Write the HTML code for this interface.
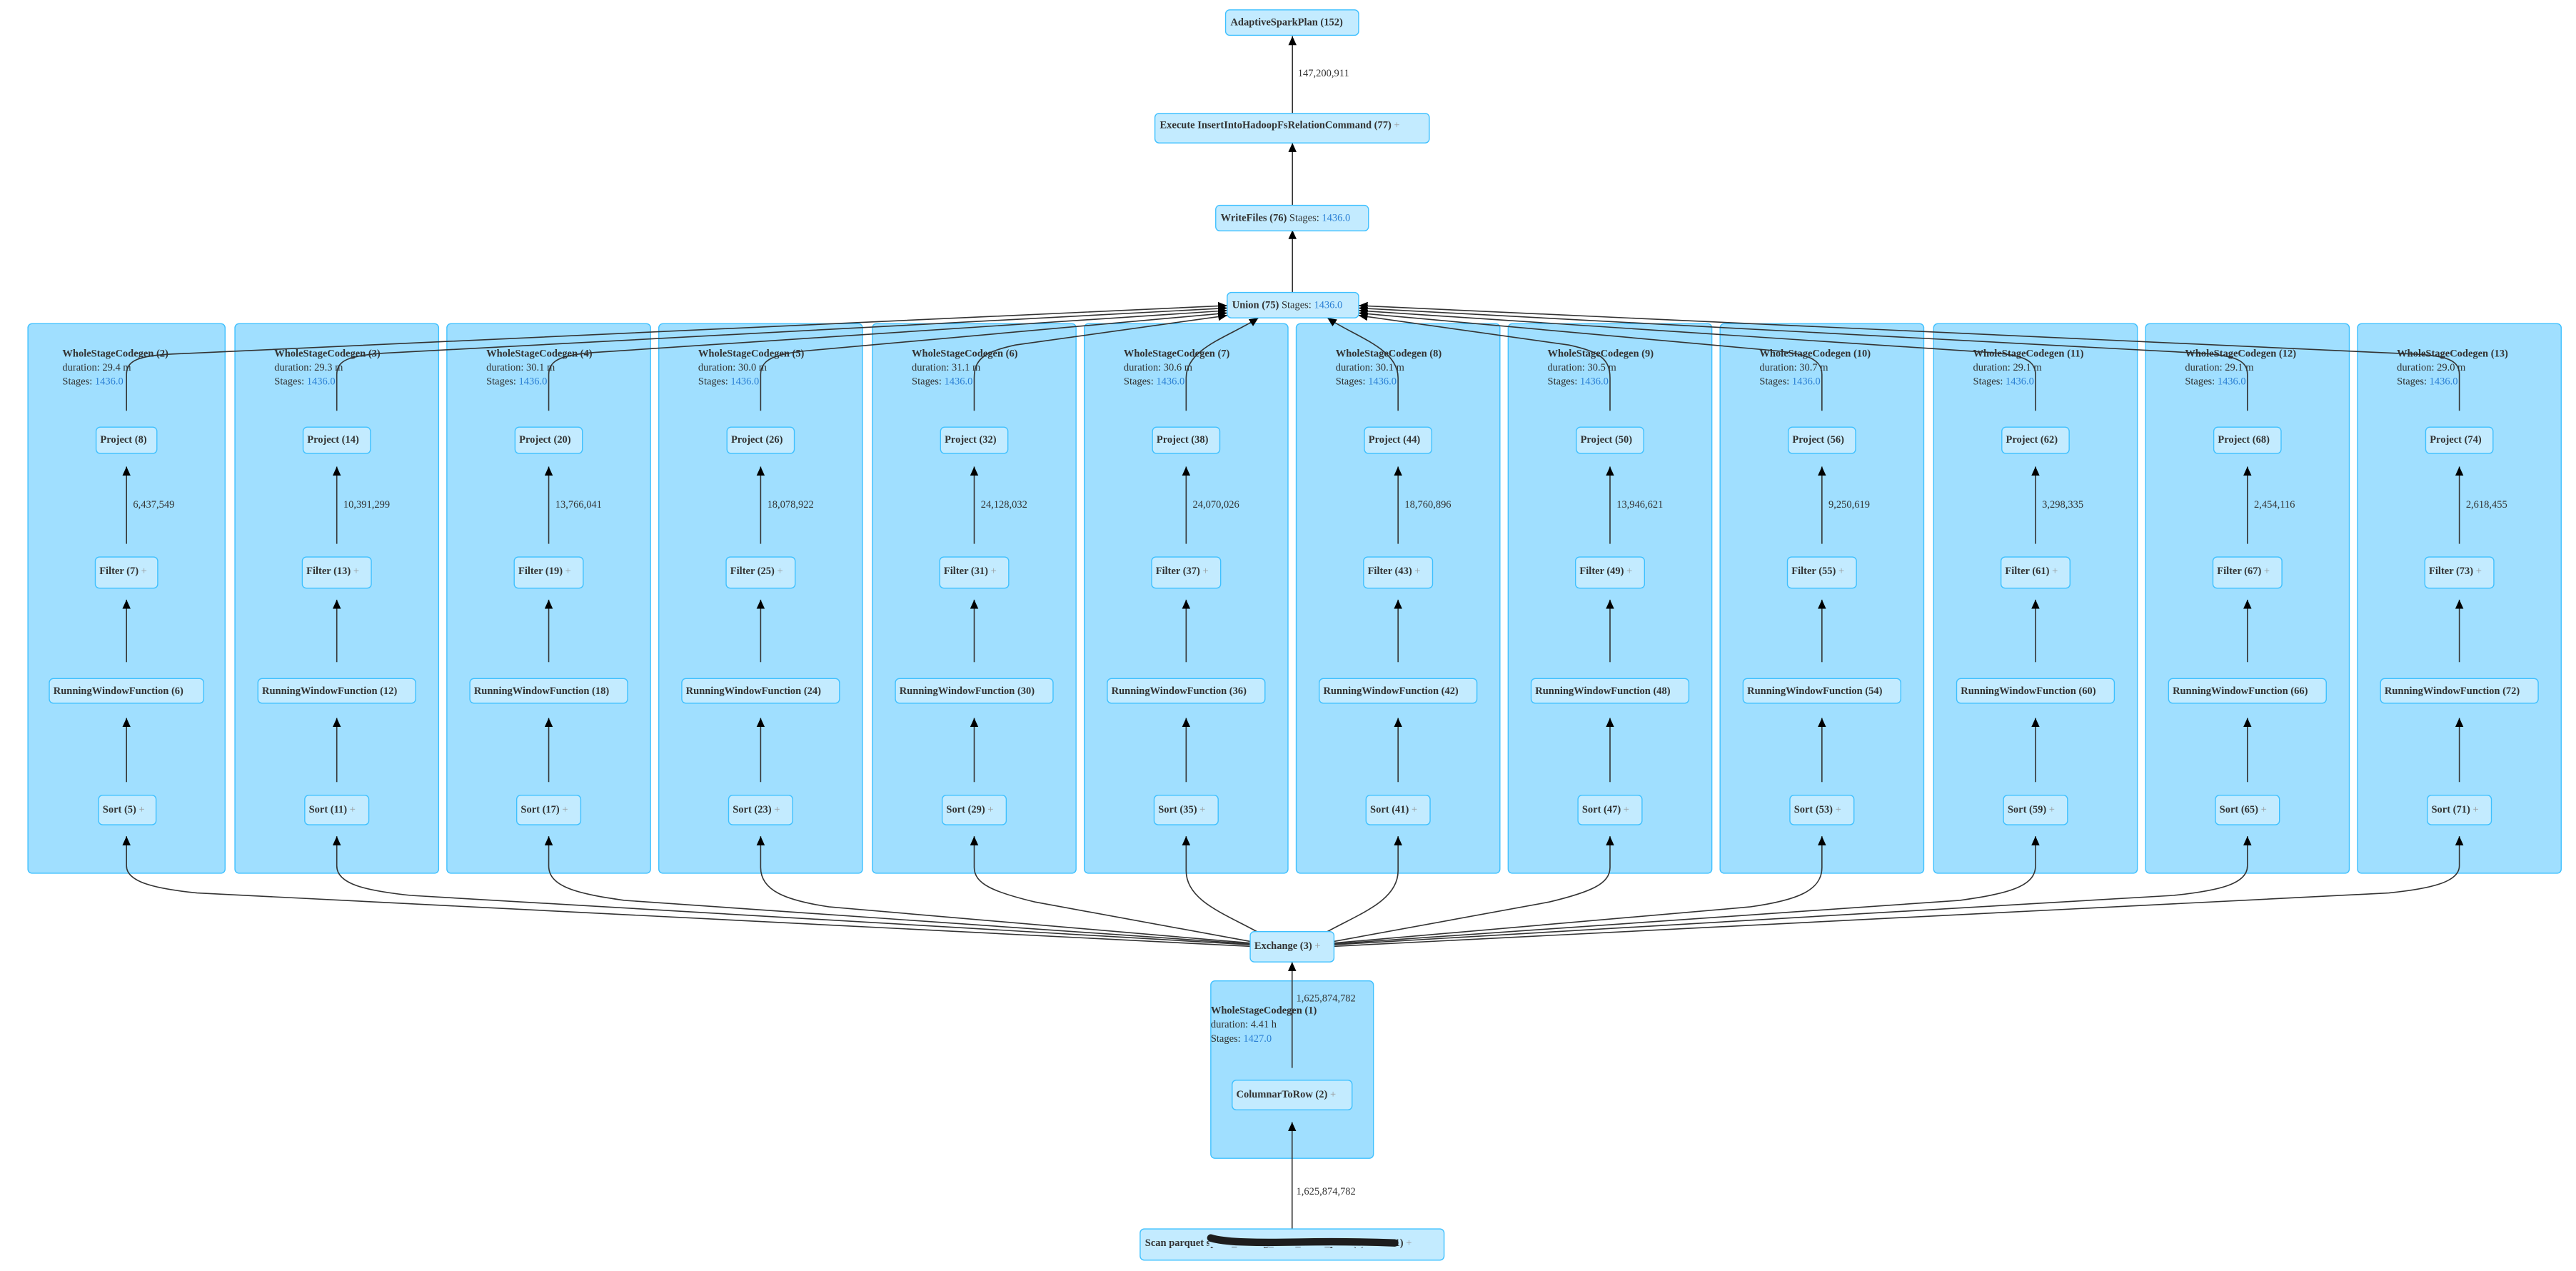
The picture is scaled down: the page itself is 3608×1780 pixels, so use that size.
<!DOCTYPE html>
<html><head><meta charset="utf-8"><style>
html,body{margin:0;padding:0;background:#fff;}
svg{display:block;}
text{font-family:"Liberation Serif",serif;fill:#333;font-size:6.3px;}
.b{font-weight:bold;}
.s{fill:#2a7fd4;}
.p{fill:#999;}
.cl{fill:#A0DFFF;stroke:#3EC0FF;stroke-width:0.6;}
.nd{fill:#C3EBFF;stroke:#3EC0FF;stroke-width:0.6;}
.e{fill:none;stroke:#333;stroke-width:0.7;}
</style></head><body>
<svg width="3608" height="1780" viewBox="0 0 1568 773.6" preserveAspectRatio="none" xmlns="http://www.w3.org/2000/svg">
<defs>
<marker id="a" viewBox="0 0 10 10" refX="10" refY="5" markerWidth="5.5" markerHeight="5" markerUnits="userSpaceOnUse" orient="auto" preserveAspectRatio="none"><path d="M0,0 L10,5 L0,10 z" fill="#000"/></marker>
</defs>

<!-- clusters -->
<rect class="cl" x="17" y="197" width="120" height="334.5" rx="2.5"/>
<rect class="cl" x="143" y="197" width="124" height="334.5" rx="2.5"/>
<rect class="cl" x="272" y="197" width="124" height="334.5" rx="2.5"/>
<rect class="cl" x="401" y="197" width="124" height="334.5" rx="2.5"/>
<rect class="cl" x="531" y="197" width="124" height="334.5" rx="2.5"/>
<rect class="cl" x="660" y="197" width="124" height="334.5" rx="2.5"/>
<rect class="cl" x="789" y="197" width="124" height="334.5" rx="2.5"/>
<rect class="cl" x="918" y="197" width="124" height="334.5" rx="2.5"/>
<rect class="cl" x="1047" y="197" width="124" height="334.5" rx="2.5"/>
<rect class="cl" x="1177" y="197" width="124" height="334.5" rx="2.5"/>
<rect class="cl" x="1306" y="197" width="124" height="334.5" rx="2.5"/>
<rect class="cl" x="1435" y="197" width="124" height="334.5" rx="2.5"/>
<rect class="cl" x="737" y="597" width="99" height="108" rx="2.5"/>

<!-- cluster labels -->
<g>
<text class="b" x="38" y="217">WholeStageCodegen (2)</text><text x="38" y="225.5">duration: 29.4 m</text><text x="38" y="234">Stages: <tspan class="s">1436.0</tspan></text>
<text class="b" x="167" y="217">WholeStageCodegen (3)</text><text x="167" y="225.5">duration: 29.3 m</text><text x="167" y="234">Stages: <tspan class="s">1436.0</tspan></text>
<text class="b" x="296" y="217">WholeStageCodegen (4)</text><text x="296" y="225.5">duration: 30.1 m</text><text x="296" y="234">Stages: <tspan class="s">1436.0</tspan></text>
<text class="b" x="425" y="217">WholeStageCodegen (5)</text><text x="425" y="225.5">duration: 30.0 m</text><text x="425" y="234">Stages: <tspan class="s">1436.0</tspan></text>
<text class="b" x="555" y="217">WholeStageCodegen (6)</text><text x="555" y="225.5">duration: 31.1 m</text><text x="555" y="234">Stages: <tspan class="s">1436.0</tspan></text>
<text class="b" x="684" y="217">WholeStageCodegen (7)</text><text x="684" y="225.5">duration: 30.6 m</text><text x="684" y="234">Stages: <tspan class="s">1436.0</tspan></text>
<text class="b" x="813" y="217">WholeStageCodegen (8)</text><text x="813" y="225.5">duration: 30.1 m</text><text x="813" y="234">Stages: <tspan class="s">1436.0</tspan></text>
<text class="b" x="942" y="217">WholeStageCodegen (9)</text><text x="942" y="225.5">duration: 30.5 m</text><text x="942" y="234">Stages: <tspan class="s">1436.0</tspan></text>
<text class="b" x="1071" y="217">WholeStageCodegen (10)</text><text x="1071" y="225.5">duration: 30.7 m</text><text x="1071" y="234">Stages: <tspan class="s">1436.0</tspan></text>
<text class="b" x="1201" y="217">WholeStageCodegen (11)</text><text x="1201" y="225.5">duration: 29.1 m</text><text x="1201" y="234">Stages: <tspan class="s">1436.0</tspan></text>
<text class="b" x="1330" y="217">WholeStageCodegen (12)</text><text x="1330" y="225.5">duration: 29.1 m</text><text x="1330" y="234">Stages: <tspan class="s">1436.0</tspan></text>
<text class="b" x="1459" y="217">WholeStageCodegen (13)</text><text x="1459" y="225.5">duration: 29.0 m</text><text x="1459" y="234">Stages: <tspan class="s">1436.0</tspan></text>
<text class="b" x="737" y="617">WholeStageCodegen (1)</text><text x="737" y="625.5">duration: 4.41 h</text><text x="737" y="634">Stages: <tspan class="s">1427.0</tspan></text>
</g>

<!-- edges: top chain -->
<path class="e" marker-end="url(#a)" d="M786.7,69 L786.7,22"/>
<path class="e" marker-end="url(#a)" d="M786.7,125 L786.7,87"/>
<path class="e" marker-end="url(#a)" d="M786.7,178 L786.7,140"/>
<text x="790" y="46.5">147,200,911</text>

<!-- edges to union -->
<g class="e" marker-end="url(#a)">
<path class="e" marker-end="url(#a)" d="M77,250 L77,228 C77,219 85,216.5 105,215.5 L747,186"/>
<path class="e" marker-end="url(#a)" d="M205,250 L205,228 C205,219 213,216.5 233,215 L747,187.5"/>
<path class="e" marker-end="url(#a)" d="M334,250 L334,228 C334,219 342,216 362,214.5 L747,189"/>
<path class="e" marker-end="url(#a)" d="M463,250 L463,228 C463,219 471,215.5 491,213.5 L747,190.5"/>
<path class="e" marker-end="url(#a)" d="M593,250 L593,230 C593,218 600,214 618,210 L747,192"/>
<path class="e" marker-end="url(#a)" d="M722,250 L722,230 C722,212 748,205 766,193.5"/>
<path class="e" marker-end="url(#a)" d="M851,250 L851,230 C851,212 825,205 808,193.5"/>
<path class="e" marker-end="url(#a)" d="M980,250 L980,230 C980,218 973,214 955,210 L827,192"/>
<path class="e" marker-end="url(#a)" d="M1109,250 L1109,228 C1109,219 1101,215.5 1081,213.5 L827,190.5"/>
<path class="e" marker-end="url(#a)" d="M1239,250 L1239,228 C1239,219 1231,216 1211,214.5 L827,189"/>
<path class="e" marker-end="url(#a)" d="M1368,250 L1368,228 C1368,219 1360,216.5 1340,215 L827,187.5"/>
<path class="e" marker-end="url(#a)" d="M1497,250 L1497,228 C1497,219 1489,216.5 1469,215.5 L827,186"/>
</g>

<!-- in-column edges -->
<g>
<path class="e" marker-end="url(#a)" d="M77,331 L77,284"/><path class="e" marker-end="url(#a)" d="M77,403 L77,365"/><path class="e" marker-end="url(#a)" d="M77,476 L77,437"/><text x="81" y="309">6,437,549</text>
<path class="e" marker-end="url(#a)" d="M205,331 L205,284"/><path class="e" marker-end="url(#a)" d="M205,403 L205,365"/><path class="e" marker-end="url(#a)" d="M205,476 L205,437"/><text x="209" y="309">10,391,299</text>
<path class="e" marker-end="url(#a)" d="M334,331 L334,284"/><path class="e" marker-end="url(#a)" d="M334,403 L334,365"/><path class="e" marker-end="url(#a)" d="M334,476 L334,437"/><text x="338" y="309">13,766,041</text>
<path class="e" marker-end="url(#a)" d="M463,331 L463,284"/><path class="e" marker-end="url(#a)" d="M463,403 L463,365"/><path class="e" marker-end="url(#a)" d="M463,476 L463,437"/><text x="467" y="309">18,078,922</text>
<path class="e" marker-end="url(#a)" d="M593,331 L593,284"/><path class="e" marker-end="url(#a)" d="M593,403 L593,365"/><path class="e" marker-end="url(#a)" d="M593,476 L593,437"/><text x="597" y="309">24,128,032</text>
<path class="e" marker-end="url(#a)" d="M722,331 L722,284"/><path class="e" marker-end="url(#a)" d="M722,403 L722,365"/><path class="e" marker-end="url(#a)" d="M722,476 L722,437"/><text x="726" y="309">24,070,026</text>
<path class="e" marker-end="url(#a)" d="M851,331 L851,284"/><path class="e" marker-end="url(#a)" d="M851,403 L851,365"/><path class="e" marker-end="url(#a)" d="M851,476 L851,437"/><text x="855" y="309">18,760,896</text>
<path class="e" marker-end="url(#a)" d="M980,331 L980,284"/><path class="e" marker-end="url(#a)" d="M980,403 L980,365"/><path class="e" marker-end="url(#a)" d="M980,476 L980,437"/><text x="984" y="309">13,946,621</text>
<path class="e" marker-end="url(#a)" d="M1109,331 L1109,284"/><path class="e" marker-end="url(#a)" d="M1109,403 L1109,365"/><path class="e" marker-end="url(#a)" d="M1109,476 L1109,437"/><text x="1113" y="309">9,250,619</text>
<path class="e" marker-end="url(#a)" d="M1239,331 L1239,284"/><path class="e" marker-end="url(#a)" d="M1239,403 L1239,365"/><path class="e" marker-end="url(#a)" d="M1239,476 L1239,437"/><text x="1243" y="309">3,298,335</text>
<path class="e" marker-end="url(#a)" d="M1368,331 L1368,284"/><path class="e" marker-end="url(#a)" d="M1368,403 L1368,365"/><path class="e" marker-end="url(#a)" d="M1368,476 L1368,437"/><text x="1372" y="309">2,454,116</text>
<path class="e" marker-end="url(#a)" d="M1497,331 L1497,284"/><path class="e" marker-end="url(#a)" d="M1497,403 L1497,365"/><path class="e" marker-end="url(#a)" d="M1497,476 L1497,437"/><text x="1501" y="309">2,618,455</text>
</g>

<!-- exchange to sorts -->
<g>
<path class="e" marker-end="url(#a)" d="M761,576 L120,543.5 C95,541 77,537 77,527 L77,509"/>
<path class="e" marker-end="url(#a)" d="M761,575 L250,545 C222,542 205,538 205,527 L205,509"/>
<path class="e" marker-end="url(#a)" d="M761,574.5 L380,548 C352,544 334,540 334,527 L334,509"/>
<path class="e" marker-end="url(#a)" d="M761,574 L505,552 C478,548 463,542 463,528 L463,509"/>
<path class="e" marker-end="url(#a)" d="M761,573 L630,549 C605,543 593,538 593,528 L593,509"/>
<path class="e" marker-end="url(#a)" d="M765,567 C745,556 722,548 722,530 L722,509"/>
<path class="e" marker-end="url(#a)" d="M808,567 C828,556 851,548 851,530 L851,509"/>
<path class="e" marker-end="url(#a)" d="M812,573 L943,549 C968,543 980,538 980,528 L980,509"/>
<path class="e" marker-end="url(#a)" d="M812,574 L1065,552 C1094,548 1109,542 1109,528 L1109,509"/>
<path class="e" marker-end="url(#a)" d="M812,574.5 L1193,548 C1221,544 1239,540 1239,527 L1239,509"/>
<path class="e" marker-end="url(#a)" d="M812,575 L1323,545 C1351,542 1368,538 1368,527 L1368,509"/>
<path class="e" marker-end="url(#a)" d="M812,576 L1454,543.5 C1479,541 1497,537 1497,527 L1497,509"/>
</g>

<!-- bottom chain -->
<path class="e" marker-end="url(#a)" d="M786.5,650 L786.5,585.5"/>
<path class="e" marker-end="url(#a)" d="M786.5,748 L786.5,683"/>
<text x="789" y="609.5">1,625,874,782</text>
<text x="789" y="727">1,625,874,782</text>

<!-- top nodes -->
<rect class="nd" x="746" y="6" width="81" height="15.5" rx="2.5"/>
<text class="b" x="749" y="15.5">AdaptiveSparkPlan (152)</text>
<rect class="nd" x="703" y="69" width="167" height="18" rx="2.5"/>
<text x="706" y="78"><tspan class="b">Execute InsertIntoHadoopFsRelationCommand (77)</tspan> <tspan class="p">+</tspan></text>
<rect class="nd" x="740" y="125" width="93" height="15.5" rx="2.5"/>
<text x="743" y="134.5"><tspan class="b">WriteFiles (76)</tspan> Stages: <tspan class="s">1436.0</tspan></text>
<rect class="nd" x="747" y="178" width="80" height="15.5" rx="2.5"/>
<text x="750" y="187.5"><tspan class="b">Union (75)</tspan> Stages: <tspan class="s">1436.0</tspan></text>

<!-- column nodes -->
<g>
<rect class="nd" x="58.5" y="260" width="37" height="16" rx="2.5"/><text class="b" x="61" y="269.5">Project (8)</text>
<rect class="nd" x="58" y="339" width="38" height="19" rx="2.5"/><text x="60.5" y="349.5"><tspan class="b">Filter (7)</tspan> <tspan class="p">+</tspan></text>
<rect class="nd" x="30" y="413" width="94" height="15" rx="2.5"/><text class="b" x="32.5" y="422.5">RunningWindowFunction (6)</text>
<rect class="nd" x="60" y="484" width="35" height="18" rx="2.5"/><text x="62.5" y="494.5"><tspan class="b">Sort (5)</tspan> <tspan class="p">+</tspan></text>

<rect class="nd" x="184.5" y="260" width="41" height="16" rx="2.5"/><text class="b" x="187" y="269.5">Project (14)</text>
<rect class="nd" x="184" y="339" width="42" height="19" rx="2.5"/><text x="186.5" y="349.5"><tspan class="b">Filter (13)</tspan> <tspan class="p">+</tspan></text>
<rect class="nd" x="157" y="413" width="96" height="15" rx="2.5"/><text class="b" x="159.5" y="422.5">RunningWindowFunction (12)</text>
<rect class="nd" x="185.5" y="484" width="39" height="18" rx="2.5"/><text x="188" y="494.5"><tspan class="b">Sort (11)</tspan> <tspan class="p">+</tspan></text>

<rect class="nd" x="313.5" y="260" width="41" height="16" rx="2.5"/><text class="b" x="316" y="269.5">Project (20)</text>
<rect class="nd" x="313" y="339" width="42" height="19" rx="2.5"/><text x="315.5" y="349.5"><tspan class="b">Filter (19)</tspan> <tspan class="p">+</tspan></text>
<rect class="nd" x="286" y="413" width="96" height="15" rx="2.5"/><text class="b" x="288.5" y="422.5">RunningWindowFunction (18)</text>
<rect class="nd" x="314.5" y="484" width="39" height="18" rx="2.5"/><text x="317" y="494.5"><tspan class="b">Sort (17)</tspan> <tspan class="p">+</tspan></text>

<rect class="nd" x="442.5" y="260" width="41" height="16" rx="2.5"/><text class="b" x="445" y="269.5">Project (26)</text>
<rect class="nd" x="442" y="339" width="42" height="19" rx="2.5"/><text x="444.5" y="349.5"><tspan class="b">Filter (25)</tspan> <tspan class="p">+</tspan></text>
<rect class="nd" x="415" y="413" width="96" height="15" rx="2.5"/><text class="b" x="417.5" y="422.5">RunningWindowFunction (24)</text>
<rect class="nd" x="443.5" y="484" width="39" height="18" rx="2.5"/><text x="446" y="494.5"><tspan class="b">Sort (23)</tspan> <tspan class="p">+</tspan></text>

<rect class="nd" x="572.5" y="260" width="41" height="16" rx="2.5"/><text class="b" x="575" y="269.5">Project (32)</text>
<rect class="nd" x="572" y="339" width="42" height="19" rx="2.5"/><text x="574.5" y="349.5"><tspan class="b">Filter (31)</tspan> <tspan class="p">+</tspan></text>
<rect class="nd" x="545" y="413" width="96" height="15" rx="2.5"/><text class="b" x="547.5" y="422.5">RunningWindowFunction (30)</text>
<rect class="nd" x="573.5" y="484" width="39" height="18" rx="2.5"/><text x="576" y="494.5"><tspan class="b">Sort (29)</tspan> <tspan class="p">+</tspan></text>

<rect class="nd" x="701.5" y="260" width="41" height="16" rx="2.5"/><text class="b" x="704" y="269.5">Project (38)</text>
<rect class="nd" x="701" y="339" width="42" height="19" rx="2.5"/><text x="703.5" y="349.5"><tspan class="b">Filter (37)</tspan> <tspan class="p">+</tspan></text>
<rect class="nd" x="674" y="413" width="96" height="15" rx="2.5"/><text class="b" x="676.5" y="422.5">RunningWindowFunction (36)</text>
<rect class="nd" x="702.5" y="484" width="39" height="18" rx="2.5"/><text x="705" y="494.5"><tspan class="b">Sort (35)</tspan> <tspan class="p">+</tspan></text>

<rect class="nd" x="830.5" y="260" width="41" height="16" rx="2.5"/><text class="b" x="833" y="269.5">Project (44)</text>
<rect class="nd" x="830" y="339" width="42" height="19" rx="2.5"/><text x="832.5" y="349.5"><tspan class="b">Filter (43)</tspan> <tspan class="p">+</tspan></text>
<rect class="nd" x="803" y="413" width="96" height="15" rx="2.5"/><text class="b" x="805.5" y="422.5">RunningWindowFunction (42)</text>
<rect class="nd" x="831.5" y="484" width="39" height="18" rx="2.5"/><text x="834" y="494.5"><tspan class="b">Sort (41)</tspan> <tspan class="p">+</tspan></text>

<rect class="nd" x="959.5" y="260" width="41" height="16" rx="2.5"/><text class="b" x="962" y="269.5">Project (50)</text>
<rect class="nd" x="959" y="339" width="42" height="19" rx="2.5"/><text x="961.5" y="349.5"><tspan class="b">Filter (49)</tspan> <tspan class="p">+</tspan></text>
<rect class="nd" x="932" y="413" width="96" height="15" rx="2.5"/><text class="b" x="934.5" y="422.5">RunningWindowFunction (48)</text>
<rect class="nd" x="960.5" y="484" width="39" height="18" rx="2.5"/><text x="963" y="494.5"><tspan class="b">Sort (47)</tspan> <tspan class="p">+</tspan></text>

<rect class="nd" x="1088.5" y="260" width="41" height="16" rx="2.5"/><text class="b" x="1091" y="269.5">Project (56)</text>
<rect class="nd" x="1088" y="339" width="42" height="19" rx="2.5"/><text x="1090.5" y="349.5"><tspan class="b">Filter (55)</tspan> <tspan class="p">+</tspan></text>
<rect class="nd" x="1061" y="413" width="96" height="15" rx="2.5"/><text class="b" x="1063.5" y="422.5">RunningWindowFunction (54)</text>
<rect class="nd" x="1089.5" y="484" width="39" height="18" rx="2.5"/><text x="1092" y="494.5"><tspan class="b">Sort (53)</tspan> <tspan class="p">+</tspan></text>

<rect class="nd" x="1218.5" y="260" width="41" height="16" rx="2.5"/><text class="b" x="1221" y="269.5">Project (62)</text>
<rect class="nd" x="1218" y="339" width="42" height="19" rx="2.5"/><text x="1220.5" y="349.5"><tspan class="b">Filter (61)</tspan> <tspan class="p">+</tspan></text>
<rect class="nd" x="1191" y="413" width="96" height="15" rx="2.5"/><text class="b" x="1193.5" y="422.5">RunningWindowFunction (60)</text>
<rect class="nd" x="1219.5" y="484" width="39" height="18" rx="2.5"/><text x="1222" y="494.5"><tspan class="b">Sort (59)</tspan> <tspan class="p">+</tspan></text>

<rect class="nd" x="1347.5" y="260" width="41" height="16" rx="2.5"/><text class="b" x="1350" y="269.5">Project (68)</text>
<rect class="nd" x="1347" y="339" width="42" height="19" rx="2.5"/><text x="1349.5" y="349.5"><tspan class="b">Filter (67)</tspan> <tspan class="p">+</tspan></text>
<rect class="nd" x="1320" y="413" width="96" height="15" rx="2.5"/><text class="b" x="1322.5" y="422.5">RunningWindowFunction (66)</text>
<rect class="nd" x="1348.5" y="484" width="39" height="18" rx="2.5"/><text x="1351" y="494.5"><tspan class="b">Sort (65)</tspan> <tspan class="p">+</tspan></text>

<rect class="nd" x="1476.5" y="260" width="41" height="16" rx="2.5"/><text class="b" x="1479" y="269.5">Project (74)</text>
<rect class="nd" x="1476" y="339" width="42" height="19" rx="2.5"/><text x="1478.5" y="349.5"><tspan class="b">Filter (73)</tspan> <tspan class="p">+</tspan></text>
<rect class="nd" x="1449" y="413" width="96" height="15" rx="2.5"/><text class="b" x="1451.5" y="422.5">RunningWindowFunction (72)</text>
<rect class="nd" x="1477.5" y="484" width="39" height="18" rx="2.5"/><text x="1480" y="494.5"><tspan class="b">Sort (71)</tspan> <tspan class="p">+</tspan></text>
</g>

<!-- bottom nodes -->
<rect class="nd" x="761" y="567" width="51" height="18.5" rx="2.5"/>
<text x="763.5" y="577.5"><tspan class="b">Exchange (3)</tspan> <tspan class="p">+</tspan></text>
<rect class="nd" x="750" y="657.5" width="73" height="18" rx="2.5"/>
<text x="752.5" y="668"><tspan class="b">ColumnarToRow (2)</tspan> <tspan class="p">+</tspan></text>
<rect class="nd" x="694" y="748" width="185" height="19" rx="2.5"/>
<text x="697" y="758.5"><tspan class="b">Scan parquet spark_catalog_table_name_path (1)</tspan> <tspan class="p">+</tspan></text>
<rect x="736" y="750" width="114" height="9" fill="#C3EBFF"/>
<text x="849" y="758.5"><tspan class="b">1)</tspan> <tspan class="p">+</tspan></text>
<path d="M737,753.5 C745,756 760,756.5 790,756 C815,755.5 835,756 849,756.5" stroke="#1d1d1d" stroke-width="4.5" stroke-linecap="round" fill="none"/>
</svg>
</body></html>
